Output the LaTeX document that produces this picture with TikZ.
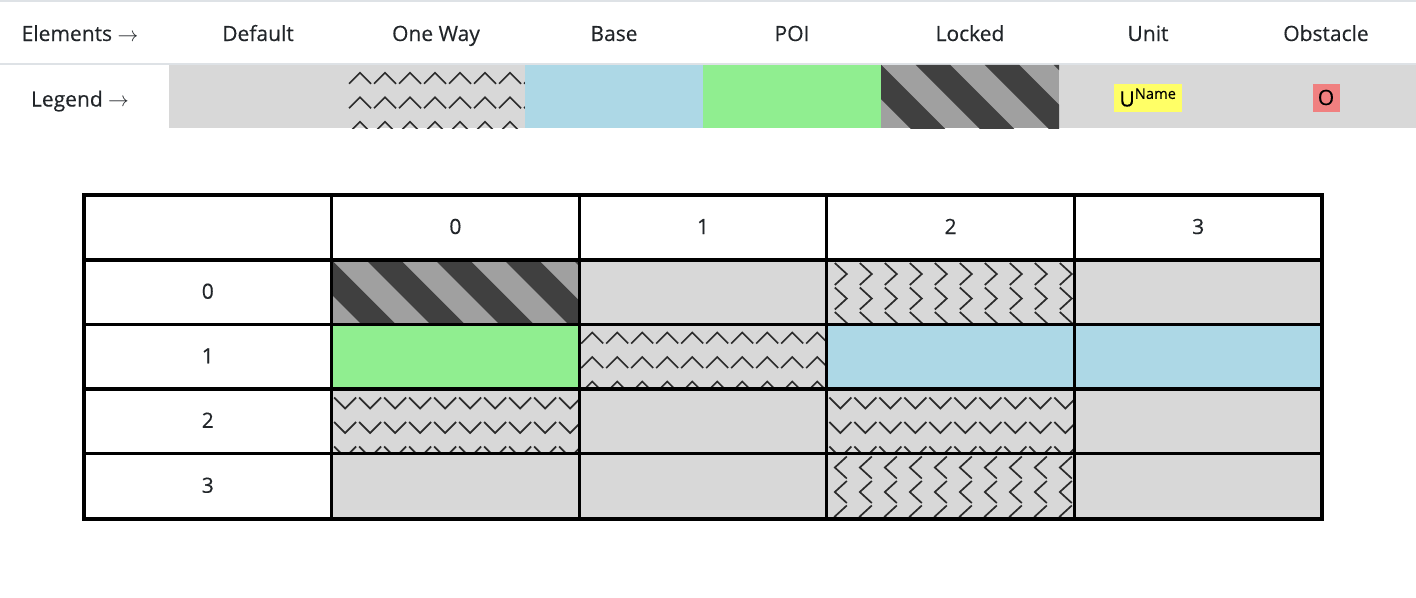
\documentclass[tikz,border=0pt]{standalone}
\usepackage{fontspec}
\setmainfont[FakeBold=0.35]{Open Sans}
\usetikzlibrary{positioning}

\definecolor{cellgray}{HTML}{D8D8D8}
\definecolor{basecolor}{HTML}{ADD8E6}
\definecolor{poicolor}{HTML}{90EE90}
\definecolor{lockdark}{HTML}{404040}
\definecolor{locklight}{HTML}{A0A0A0}
\definecolor{unitcolor}{HTML}{FFFF66}
\definecolor{obstcolor}{HTML}{F08080}
\definecolor{rulegray}{HTML}{DEE2E6}
\definecolor{chevcolor}{HTML}{2B2B2B}
\definecolor{textcolor}{HTML}{212529}

\tikzset{
  rule/.style={rulegray, line width=1.5pt},
  grid/.style={black, line width=3.3pt, line cap=rect},
  chevline/.style={chevcolor, line width=1.7pt},
  lbl/.style={anchor=base, text=textcolor},
  unitbox/.style={fill=unitcolor, minimum width=68pt, minimum height=28pt},
  obstbox/.style={fill=obstcolor, minimum width=27pt, minimum height=28pt}
}

% locked cell: x0 y0 x1 y1
\newcommand{\lockedcell}[4]{%
  \begin{scope}
    \clip (#1,#2) rectangle (#3,#4);
    \fill[locklight] (#1,#2) rectangle (#3,#4);
    \foreach \k in {-2,...,4}
      \fill[lockdark] ({#1+\k*69+34.5},#2) -- ++(34.5,0) -- ++(80,80) -- ++(-34.5,0) -- cycle;
  \end{scope}}

% one way cell: x0 y0 x1 y1 chevron
\newcommand{\chevcell}[5]{%
  \begin{scope}
    \clip (#1,#2) rectangle (#3,#4);
    \fill[cellgray] (#1,#2) rectangle (#3,#4);
    \foreach \i in {0,...,10}
      \foreach \j in {0,...,2}
        \draw[chevline, shift={({#1+\i*25},{#2+\j*24.5})}] #5;
  \end{scope}}

\begin{document}
\begin{tikzpicture}[x=1pt, y=-1pt, every node/.style={font=\fontsize{21}{25}\selectfont, inner sep=0pt}]
  \useasboundingbox (0,0) rectangle (1416,597);

  % legend
  \draw[rule] (0,0.75) -- (1416,0.75);
  \draw[rule] (0,64) -- (1416,64);
  \fill[cellgray] (169,64.75) rectangle (1416,128);
  \chevcell{347}{64.75}{525}{128}{(2,19) -- (13,8) -- (24,19)}
  \fill[basecolor] (525,64.75) rectangle (703,128);
  \fill[poicolor] (703,64.75) rectangle (881,128);
  \lockedcell{881}{64.75}{1059}{128}

  \node[lbl] (elements) at (80,41) {Elements $\rightarrow$};
  \node[lbl] (default) at (258,41) {Default};
  \node[lbl] (oneway) at (436,41) {One Way};
  \node[lbl] (base) at (614,41) {Base};
  \node[lbl] (poi) at (792,41) {POI};
  \node[lbl] (locked) at (970,41) {Locked};
  \node[lbl] (unit) at (1148,41) {Unit};
  \node[lbl] (obstacle) at (1326,41) {Obstacle};
  \node[lbl] (legend) at (80,106.5) {Legend $\rightarrow$};
  \node[unitbox] (unitmark) at (1148,97.5) {U\textsuperscript{Name}};
  \node[obstbox] (obstmark) at (1326,97.5) {O};

  % grid cells
  \fill[cellgray] (331.6,260) rectangle (1322,519);
  \lockedcell{331.6}{260}{579.2}{324.5}
  \chevcell{826.8}{260}{1074.4}{324.5}{(8,3) -- (20,14) -- (8,25)}
  \fill[poicolor] (331.6,324.5) rectangle (579.2,389);
  \chevcell{579.2}{324.5}{826.8}{389}{(2,19) -- (13,8) -- (24,19)}
  \fill[basecolor] (826.8,324.5) rectangle (1322,389);
  \chevcell{331.6}{389}{579.2}{453.5}{(2.5,8.5) -- (13.5,19.5) -- (24.5,8.5)}
  \chevcell{826.8}{389}{1074.4}{453.5}{(2.5,8.5) -- (13.5,19.5) -- (24.5,8.5)}
  \chevcell{826.8}{453.5}{1074.4}{519}{(20,3) -- (8,14) -- (20,25)}

  \foreach \x in {84,331.6,579.2,826.8,1074.4,1322}
    \draw[grid] (\x,195) -- (\x,519);
  \foreach \y in {195,260,324.5,389,453.5,519}
    \draw[grid] (84,\y) -- (1322,\y);

  \node[lbl] (col0) at (455.4,234) {0};
  \node[lbl] (col1) at (703,234) {1};
  \node[lbl] (col2) at (950.6,234) {2};
  \node[lbl] (col3) at (1198.2,234) {3};
  \node[lbl] (row0) at (207.8,298.75) {0};
  \node[lbl] (row1) at (207.8,363.25) {1};
  \node[lbl] (row2) at (207.8,427.75) {2};
  \node[lbl] (row3) at (207.8,492.75) {3};
\end{tikzpicture}
\end{document}
